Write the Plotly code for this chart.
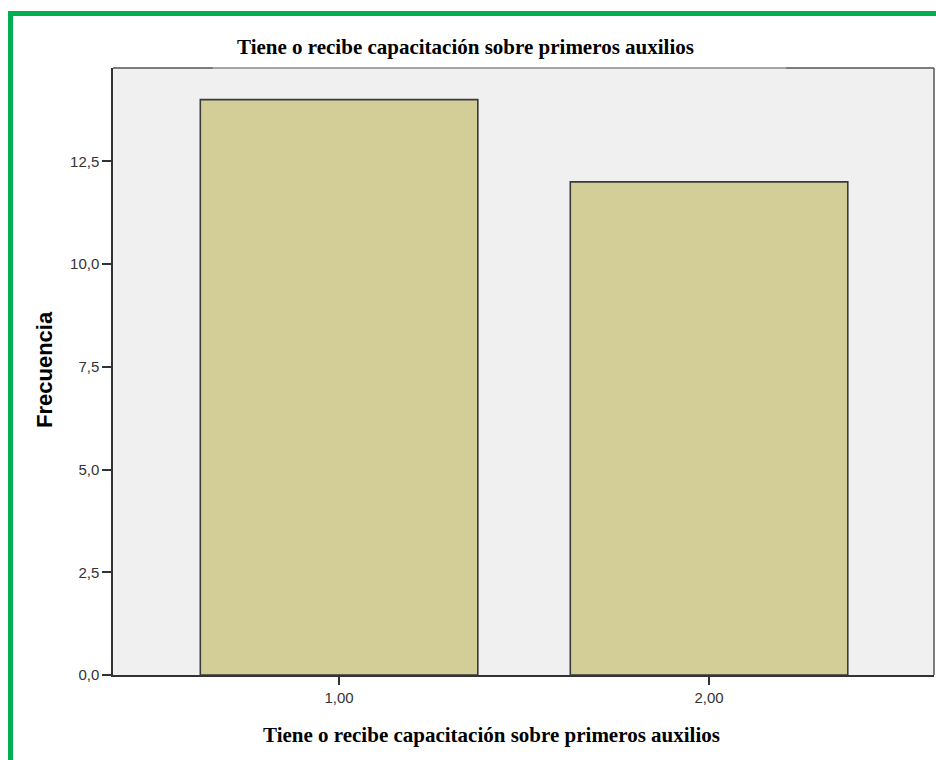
import plotly.graph_objects as go

# Frequency table: answer code vs. count
categories = [1.0, 2.0]
frequencies = [14, 12]
y_ticks = [0.0, 2.5, 5.0, 7.5, 10.0, 12.5]

W, H = 936, 760
ML, MR, MT, MB = 113, 2, 68, 85
PW, PH = W - ML - MR, H - MT - MB


def px_x(px):
    return (px - ML) / PW


def px_y(py):
    return 1 - (py - MT) / PH


fig = go.Figure(
    go.Bar(
        x=categories,
        y=frequencies,
        width=0.75,
        marker=dict(color="#D3CE97", line=dict(color="#3a3a3a", width=1.6)),
    )
)

shapes = [
    # green frame around the figure (left and top edges)
    dict(type="rect", xref="paper", yref="paper",
         x0=px_x(8), x1=px_x(13), y0=px_y(780), y1=px_y(11),
         fillcolor="#00B050", line=dict(width=0), layer="above"),
    dict(type="rect", xref="paper", yref="paper",
         x0=px_x(8), x1=px_x(950), y0=px_y(16), y1=px_y(11),
         fillcolor="#00B050", line=dict(width=0), layer="above"),
    # plot frame: right edge and top edge (lighter behind the title)
    dict(type="line", xref="paper", yref="paper",
         x0=1, x1=1, y0=0, y1=1, line=dict(color="#555555", width=1.5)),
    dict(type="line", xref="paper", yref="paper",
         x0=0, x1=px_x(213), y0=1, y1=1, line=dict(color="#555555", width=1.5)),
    dict(type="line", xref="paper", yref="paper",
         x0=px_x(213), x1=px_x(786), y0=1, y1=1, line=dict(color="#8a8a8a", width=1.5)),
    dict(type="line", xref="paper", yref="paper",
         x0=px_x(786), x1=1, y0=1, y1=1, line=dict(color="#555555", width=1.5)),
]

title_text = "Tiene o recibe capacitación sobre primeros auxilios"
serif = "Liberation Serif, Times New Roman, serif"
sans = "Liberation Sans, Arial, sans-serif"

annotations = [
    dict(text=f"<b>{title_text}</b>", xref="paper", yref="paper",
         x=px_x(465), y=px_y(47), showarrow=False,
         font=dict(family=serif, size=21, color="#000000"),
         xanchor="center", yanchor="middle"),
    dict(text=f"<b>{title_text}</b>", xref="paper", yref="paper",
         x=px_x(491), y=px_y(735), showarrow=False,
         font=dict(family=serif, size=21, color="#000000"),
         xanchor="center", yanchor="middle"),
    dict(text="<b>Frecuencia</b>", xref="paper", yref="paper",
         x=px_x(45), y=px_y(370), showarrow=False, textangle=-90,
         font=dict(family=sans, size=22, color="#000000"),
         xanchor="center", yanchor="middle"),
]

fig.update_layout(
    width=W, height=H,
    margin=dict(l=ML, r=MR, t=MT, b=MB, pad=0),
    paper_bgcolor="#FFFFFF",
    plot_bgcolor="#F0F0F0",
    separators=",.",
    showlegend=False,
    shapes=shapes,
    annotations=annotations,
    font=dict(family=sans, size=15, color="#333333"),
    xaxis=dict(
        range=[0.389, 2.608],
        tickvals=categories,
        tickformat=".2f",
        ticks="outside", ticklen=8, tickwidth=1.5, tickcolor="#333333",
        showline=True, linecolor="#333333", linewidth=1.5,
        showgrid=False, zeroline=False,
        tickfont=dict(family=sans, size=15, color="#333333"),
    ),
    yaxis=dict(
        range=[0, 14.77],
        tickvals=y_ticks,
        tickformat=".1f",
        ticks="outside", ticklen=9, tickwidth=1.5, tickcolor="#333333",
        showline=True, linecolor="#333333", linewidth=1.5,
        showgrid=False, zeroline=False,
        tickfont=dict(family=sans, size=15, color="#333333"),
    ),
)

fig.write_html("out.html")
